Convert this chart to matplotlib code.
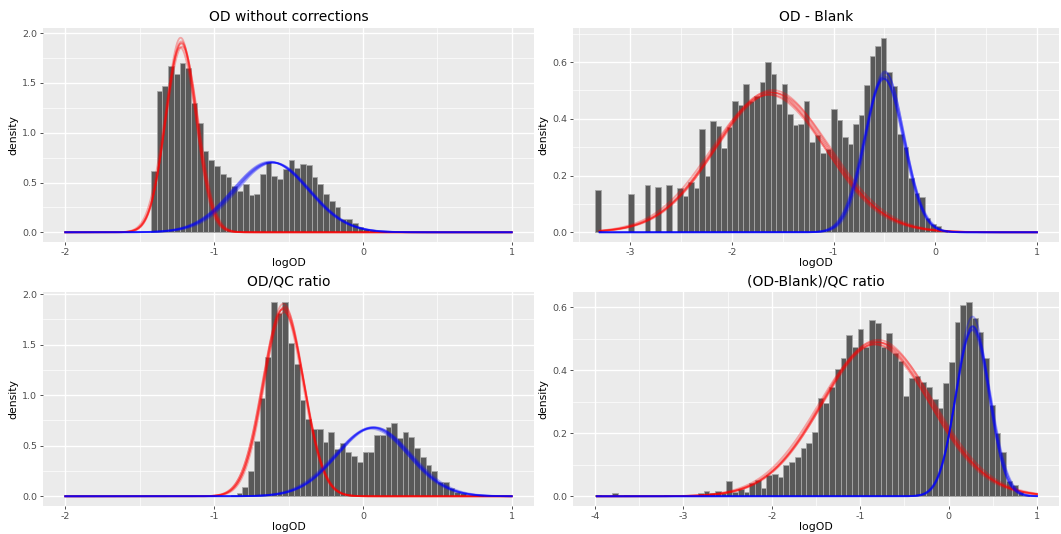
import numpy as np
import matplotlib
matplotlib.use("Agg")
import matplotlib.pyplot as plt
from matplotlib.ticker import MultipleLocator, FormatStrFormatter

plt.rcParams['font.family'] = ['DejaVu Sans']
plt.rcParams['axes.unicode_minus'] = False

# histogram densities (left edge of first bin, bin width, heights)
p1_start, p1_binw = -1.425, 0.0386
p1_density = [0.617, 1.423, 1.467, 1.673, 1.59, 1.697, 1.65, 1.30, 1.10, 0.813, 0.73, 0.667,
              0.59, 0.557, 0.467, 0.413, 0.48, 0.373, 0.383, 0.583, 0.707, 0.567, 0.533, 0.633,
              0.73, 0.65, 0.69, 0.68, 0.557, 0.48, 0.38, 0.317, 0.257, 0.13, 0.13, 0.09, 0.057,
              0.033, 0.023, 0.017, 0.01]

p2_start, p2_binw = -3.345, 0.054
p2_density = [0.148, 0, 0, 0, 0, 0, 0.134, 0, 0, 0.166, 0, 0.161, 0, 0.166, 0, 0.157, 0.129,
              0.176, 0.157, 0.365, 0.2, 0.394, 0.375, 0.297, 0.37, 0.464, 0.448, 0.523, 0.462,
              0.479, 0.529, 0.599, 0.559, 0.454, 0.523, 0.418, 0.377, 0.382, 0.462, 0.319, 0.342,
              0.28, 0.295, 0.436, 0.396, 0.336, 0.313, 0.381, 0.415, 0.52, 0.621, 0.656, 0.686,
              0.565, 0.515, 0.348, 0.301, 0.192, 0.137, 0.125, 0.049, 0.029, 0.022, 0.008]

p3_start, p3_binw = -0.887, 0.0385
p3_density = [0.01, 0.036, 0.092, 0.25, 0.548, 0.967, 1.38, 1.917, 1.81, 1.924, 1.52, 1.307,
              0.95, 0.762, 0.663, 0.67, 0.538, 0.64, 0.465, 0.525, 0.442, 0.4, 0.34, 0.439, 0.439,
              0.607, 0.607, 0.69, 0.723, 0.58, 0.637, 0.59, 0.48, 0.393, 0.307, 0.25, 0.142,
              0.145, 0.086, 0.043, 0.036, 0.017, 0.013, 0.01]

p4_start, p4_binw = -4.0, 0.0646
p4_density = [0.004, 0, 0, 0.009, 0, 0.003, 0, 0, 0, 0, 0, 0, 0.003, 0, 0, 0, 0, 0,
              0.01, 0.017, 0.009, 0.017, 0.01, 0.049, 0.014, 0.024, 0.014, 0.041, 0.052, 0.026,
              0.068, 0.071, 0.062, 0.099, 0.11, 0.123, 0.154, 0.17, 0.205, 0.311, 0.295, 0.348,
              0.404, 0.437, 0.51, 0.474, 0.529, 0.475, 0.56, 0.551, 0.474, 0.517, 0.454, 0.43,
              0.318, 0.376, 0.383, 0.363, 0.345, 0.31, 0.28, 0.358, 0.426, 0.553, 0.607, 0.617,
              0.564, 0.52, 0.44, 0.29, 0.2, 0.14, 0.05, 0.035, 0.015, 0.005]

# posterior draws of the two mixture components: (mean, sd, weight)
p1_red = [(-1.222, 0.103, 0.49), (-1.218, 0.106, 0.505), (-1.225, 0.100, 0.49),
          (-1.215, 0.108, 0.505), (-1.220, 0.104, 0.50), (-1.228, 0.107, 0.498)]
p1_blue = [(-0.615, 0.250, 0.44), (-0.600, 0.245, 0.43), (-0.620, 0.255, 0.45),
           (-0.605, 0.252, 0.442), (-0.612, 0.248, 0.437), (-0.625, 0.250, 0.445)]
p2_red = [(-1.61, 0.55, 0.68), (-1.63, 0.54, 0.67), (-1.59, 0.56, 0.69),
          (-1.62, 0.555, 0.675), (-1.60, 0.545, 0.685), (-1.64, 0.56, 0.68)]
p2_blue = [(-0.500, 0.190, 0.262), (-0.490, 0.185, 0.26), (-0.510, 0.195, 0.266),
           (-0.495, 0.190, 0.27), (-0.505, 0.188, 0.255), (-0.500, 0.198, 0.268)]
p3_red = [(-0.532, 0.135, 0.63), (-0.528, 0.132, 0.62), (-0.536, 0.138, 0.64),
          (-0.530, 0.137, 0.625), (-0.534, 0.133, 0.635), (-0.540, 0.136, 0.63)]
p3_blue = [(0.070, 0.245, 0.418), (0.060, 0.240, 0.41), (0.080, 0.250, 0.425),
           (0.065, 0.248, 0.42), (0.075, 0.242, 0.415), (0.055, 0.250, 0.418)]
p4_red = [(-0.81, 0.62, 0.76), (-0.83, 0.61, 0.75), (-0.79, 0.63, 0.77),
          (-0.82, 0.625, 0.755), (-0.80, 0.615, 0.765), (-0.84, 0.63, 0.76)]
p4_blue = [(0.275, 0.190, 0.257), (0.270, 0.185, 0.25), (0.280, 0.195, 0.262),
           (0.272, 0.182, 0.26), (0.278, 0.192, 0.255), (0.268, 0.188, 0.248)]

titles = ["OD without corrections", "OD - Blank", "OD/QC ratio", "(OD-Blank)/QC ratio"]
curve_from = [-2.0, -3.3, -2.0, -3.98]
curve_to = 1.0

panels = [
    (p1_start, p1_binw, p1_density, p1_red, p1_blue, 0.5, 0.25, 1.0, 0.5),
    (p2_start, p2_binw, p2_density, p2_red, p2_blue, 0.2, 0.1, 1.0, 0.5),
    (p3_start, p3_binw, p3_density, p3_red, p3_blue, 0.5, 0.25, 1.0, 0.5),
    (p4_start, p4_binw, p4_density, p4_red, p4_blue, 0.2, 0.1, 1.0, 0.5),
]

W, H = 1061, 534
# panel rectangles in pixels: left, top, right, bottom
rects = [(43, 28, 534, 242), (573, 28, 1059, 242),
         (43, 292, 534, 506), (573, 292, 1059, 506)]


def mix_component(x, mu, sd, w):
    return w * np.exp(-0.5 * ((x - mu) / sd) ** 2) / (sd * np.sqrt(2 * np.pi))


fig = plt.figure(figsize=(W / 100, H / 100), dpi=100)

for i, (start, binw, dens, red, blue, ymaj, ymin_, xmaj, xmin_) in enumerate(panels):
    l, t, r, b = rects[i]
    ax = fig.add_axes([l / W, 1 - b / H, (r - l) / W, (b - t) / H])
    ax.set_facecolor('#EBEBEB')

    dens = np.array(dens)
    edges = start + binw * np.arange(len(dens))
    ax.bar(edges, dens, width=binw, align='edge', color='#595959',
           edgecolor='#A8A8A8', linewidth=0.6, zorder=2)

    xs = np.linspace(curve_from[i], curve_to, 600)
    top = dens.max()
    for mu, sd, w in red:
        ys = mix_component(xs, mu, sd, w)
        top = max(top, ys.max())
        ax.plot(xs, ys, color='#FF0000', alpha=0.3, lw=1.3, zorder=3)
    for mu, sd, w in blue:
        ys = mix_component(xs, mu, sd, w)
        top = max(top, ys.max())
        ax.plot(xs, ys, color='#0000FF', alpha=0.3, lw=1.3, zorder=4)

    # ggplot style 5% expansion
    x_lo = min(start, curve_from[i])
    x_hi = max(edges[-1] + binw, curve_to)
    dx = 0.05 * (x_hi - x_lo)
    ax.set_xlim(x_lo - dx, x_hi + dx)
    ax.set_ylim(-0.05 * top, 1.05 * top)

    ax.xaxis.set_major_locator(MultipleLocator(xmaj))
    ax.xaxis.set_minor_locator(MultipleLocator(xmin_))
    ax.yaxis.set_major_locator(MultipleLocator(ymaj))
    ax.yaxis.set_minor_locator(MultipleLocator(ymin_))
    ax.xaxis.set_major_formatter(FormatStrFormatter('%d'))
    ax.yaxis.set_major_formatter(FormatStrFormatter('%.1f'))

    ax.grid(which='major', color='white', lw=1.0, zorder=0)
    ax.grid(which='minor', color='white', lw=0.5, zorder=0)
    ax.set_axisbelow(True)
    for s in ax.spines.values():
        s.set_visible(False)
    ax.tick_params(which='major', length=2.2, width=0.6, color='#333333',
                   labelsize=6.8, labelcolor='#4D4D4D', pad=2)
    ax.tick_params(which='minor', length=0)

    ax.set_title(titles[i], fontsize=10, pad=5)
    ax.set_xlabel('logOD', fontsize=7.8, labelpad=1)
    ax.set_ylabel('density', fontsize=7.8, labelpad=3)

fig.savefig('out.png', dpi=100, facecolor='white')
